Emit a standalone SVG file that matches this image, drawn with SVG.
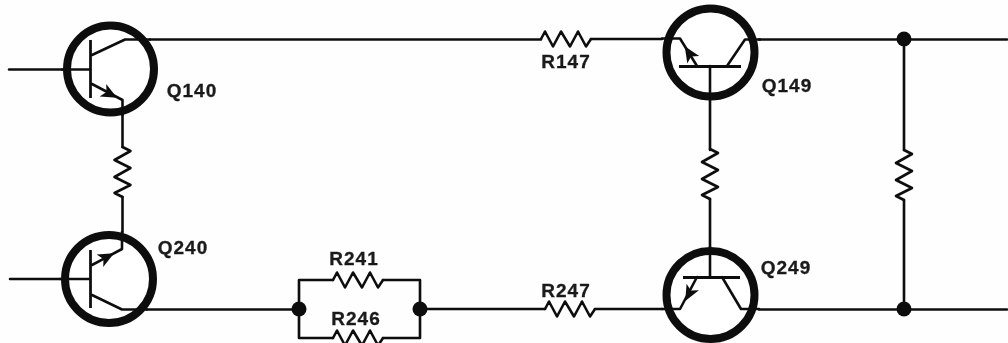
<svg xmlns="http://www.w3.org/2000/svg" width="1008" height="343" viewBox="0 0 1008 343">
<style>
.w{fill:none;stroke:#111;stroke-width:2.6;stroke-linejoin:round;stroke-linecap:round}
.b{fill:none;stroke:#111;stroke-width:2.8;stroke-linecap:butt}
.c{fill:#fff;stroke:#111;stroke-width:8}
.d{fill:#111}
.t{font-family:"Liberation Sans",Arial,sans-serif;font-weight:700;font-size:19px;letter-spacing:1px;fill:#1a1a1a;stroke:#1a1a1a;stroke-width:.3;text-anchor:middle}
</style>
<defs>
<filter id="soft" filterUnits="userSpaceOnUse" x="0" y="0" width="1008" height="343"><feGaussianBlur stdDeviation="0.5"/></filter>
<path id="rh" class="w" d="M0 0L4 -7.500L12 7.500L20 -7.500L29 7.500L37 -7.500L45 7.500L50 0"/>
<path id="rv" class="w" d="M0 0L8 4L-8 13L8 21L-8 30L8 38L-8 46L0 50"/>
<path id="ah" d="M8 0L-8 -7L-4 0L-8 7Z" fill="#111"/>
</defs>
<rect width="1008" height="343" fill="#fefefe"/>
<g filter="url(#soft)">
<g id="connectors">
<path class="w" d="M150 39.500H541M591 39H662"/>
<use href="#rh" x="541" y="39"/>
<path class="w" d="M759 39.500H1007"/>
<path class="w" d="M147 309.500H299M420 309H545M595 309H662M759 309.500H1007"/>
<use href="#rh" x="545" y="309"/>
<path class="w" d="M299 309V280H333M383 280H420V309M299 309V338H333M383 338H420V309"/>
<use href="#rh" x="333" y="280"/>
<use href="#rh" x="333" y="338"/>
<path class="w" d="M122.500 115V147M122.500 197V232"/>
<use href="#rv" x="122.500" y="147"/>
<path class="w" d="M710 100V150M710 199V247"/>
<use href="#rv" x="710" y="149"/>
<path class="w" d="M904 39V150M904 200V309"/>
<use href="#rv" x="904" y="150"/>
<path class="w" d="M9 69.500H62M10 279H60"/>
<circle class="d" cx="904" cy="39" r="7.500"/>
<circle class="d" cx="904" cy="309" r="7.500"/>
<circle class="d" cx="299" cy="309" r="7.500"/>
<circle class="d" cx="420" cy="309" r="7.500"/>
</g>
<g id="Q140">
<circle class="c" cx="110.500" cy="69" r="43.500"/>
<path class="w" d="M62 69.500H90M92 55L125 39.500H150M92 84L122.500 100V115"/>
<path class="b" d="M90.500 40V98"/>
<use href="#ah" transform="translate(110 94) rotate(28)"/>
<text class="t" x="192" y="97">Q140</text>
</g>
<g id="Q240">
<circle class="c" cx="109" cy="279" r="44"/>
<path class="w" d="M60 279H90M92 265L122 249V232M92 295L122 309.500H147"/>
<path class="b" d="M90.500 250V308"/>
<use href="#ah" transform="translate(107 257) rotate(-28)"/>
<text class="t" x="183" y="254">Q240</text>
</g>
<g id="Q149">
<circle class="c" cx="710.500" cy="52.500" r="44"/>
<path class="w" d="M662 38.500H680L697 66M760 39.500H745L727 66M710 66V100"/>
<path class="b" d="M679 66.500H741"/>
<use href="#ah" transform="translate(689 53) rotate(-122)"/>
<text class="t" x="787" y="92">Q149</text>
</g>
<g id="Q249">
<circle class="c" cx="710.500" cy="295" r="44"/>
<path class="w" d="M662 309H680L697 277M759 309H741L722 277M710 247V277"/>
<path class="b" d="M683 277.500H740"/>
<use href="#ah" transform="translate(689 294) rotate(118)"/>
<text class="t" x="786" y="274">Q249</text>
</g>
<g id="R147"><text class="t" x="566" y="68">R147</text></g>
<g id="R241"><text class="t" x="354" y="265">R241</text></g>
<g id="R246"><text class="t" x="356" y="325">R246</text></g>
<g id="R247"><text class="t" x="566" y="297">R247</text></g>
</g>
</svg>
